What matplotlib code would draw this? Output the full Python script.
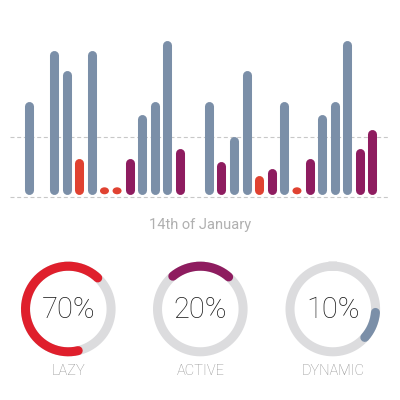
import numpy as np
import matplotlib
matplotlib.use("Agg")
import matplotlib.pyplot as plt
from matplotlib.patches import Ellipse

# bar heights (px-ish units above the baseline), two days of samples
day1_vals = [93, None, 144, 124, 36, 144, 7, 7, 36, 80, 93, 154, 46]
day1_kind = ['dynamic', None, 'dynamic', 'dynamic', 'lazy', 'dynamic', 'lazy', 'lazy',
             'active', 'dynamic', 'dynamic', 'dynamic', 'active']
day2_vals = [93, 33, 58, 124, 19, 26, 93, 7, 36, 80, 93, 154, 46, 65]
day2_kind = ['dynamic', 'active', 'dynamic', 'dynamic', 'lazy', 'active', 'dynamic', 'lazy',
             'active', 'dynamic', 'dynamic', 'dynamic', 'active', 'active']
ref_lines = [-2.4, 57.6]

# donut summary
labels = ['LAZY', 'ACTIVE', 'DYNAMIC']
pcts = ['70%', '20%', '10%']
arc_start = [166.6, -40.0, 94.6]   # degrees clockwise from 12 o'clock
arc_end = [403.5, 41.5, 131.6]
date_label = '14th of January'

bar_colors = {'dynamic': '#7b8fa8', 'lazy': '#e04231', 'active': '#8e1c5f'}
ring_colors = ['#df1f2c', '#8e1c5f', '#7b8fa8']

plt.rcParams['font.family'] = ['Roboto', 'DejaVu Sans']

fig = plt.figure(figsize=(4, 4), dpi=100)
fig.patch.set_facecolor('white')

# bars
ax = fig.add_axes([0, 0, 1, 1])
ax.set_xlim(-2.305, 29.49)
ax.set_ylim(-205.7, 194.3)
ax.axis('off')

for y in ref_lines:
    ax.axhline(y, xmin=0.025, xmax=0.975, color='#c8c8c8', lw=0.8,
               linestyle=(0, (3.6, 2.4)), zorder=1)

r = 4.5
bar_w = 9 / 12.58  # bar width in slot units
xs = list(range(len(day1_vals))) + [14.3 + i for i in range(len(day2_vals))]
vals = day1_vals + day2_vals
kinds = day1_kind + day2_kind
for x, v, k in zip(xs, vals, kinds):
    if v is None:
        continue
    if v <= 2 * r:
        ax.add_patch(Ellipse((x, v / 2), bar_w, v, color=bar_colors[k], lw=0, zorder=2))
    else:
        ax.plot([x, x], [r, v - r], color=bar_colors[k], lw=6.5,
                solid_capstyle='round', zorder=2)

# donuts + text, in pixel coordinates
ax2 = fig.add_axes([0, 0, 1, 1])
ax2.set_xlim(0, 400)
ax2.set_ylim(400, 0)
ax2.axis('off')

ax2.text(200, 225, date_label, ha='center', va='center', fontsize=10.5,
         color='#b0b0b0')

centers = [68.3, 200.3, 332.8]
cy = 309
rad = 42.8
t = np.radians(np.linspace(0, 360, 361))
for i, cx in enumerate(centers):
    ax2.plot(cx + rad * np.sin(t), cy - rad * np.cos(t), color='#dcdcde', lw=6.5, zorder=1)
    th = np.radians(np.linspace(arc_start[i], arc_end[i], 200))
    ax2.plot(cx + rad * np.sin(th), cy - rad * np.cos(th), color=ring_colors[i], lw=6.5,
             solid_capstyle='round', zorder=2)
    ax2.text(cx, cy + 1, pcts[i], ha='center', va='center', fontsize=21,
             color='#1e1e1e', fontweight='light')
    ax2.text(cx, 371, labels[i], ha='center', va='center', fontsize=10.5,
             color='#8e8e8e', fontweight='light')

fig.savefig('out.png', dpi=100, facecolor='white')
